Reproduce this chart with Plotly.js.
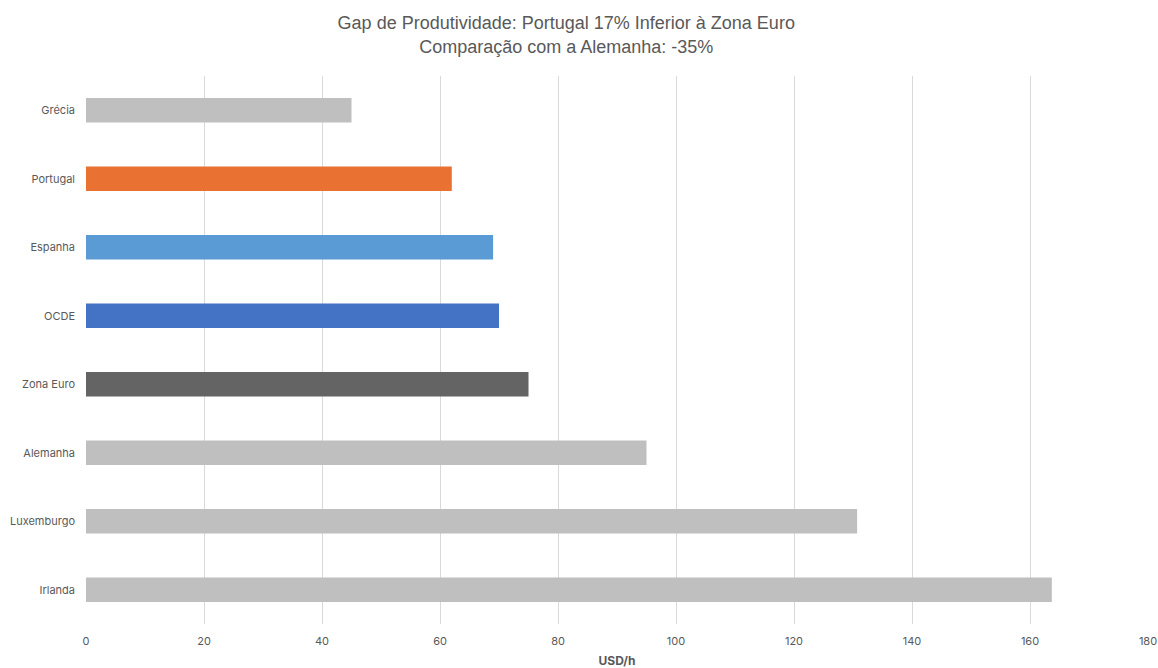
<!DOCTYPE html>
<html>
<head>
<meta charset="utf-8">
<script src="https://cdn.plot.ly/plotly-3.0.1.min.js"></script>
<style>html,body{margin:0;padding:0;background:#fff;}#chart{width:1158px;height:668px;}</style>
</head>
<body>
<div id="chart"></div>
<script>
const countries = ["Grécia", "Portugal", "Espanha", "OCDE", "Zona Euro", "Alemanha", "Luxemburgo", "Irlanda"];
const productivity = [45, 62, 69, 70, 75, 95, 130.7, 163.7];
const barColors = ["#BFBFBF", "#E97132", "#5B9BD5", "#4472C4", "#646464", "#BFBFBF", "#BFBFBF", "#BFBFBF"];
const xTicks = [0, 20, 40, 60, 80, 100, 120, 140, 160, 180];

const trace = {
  type: "bar",
  orientation: "h",
  x: productivity,
  y: countries,
  width: 0.36,
  marker: { color: barColors, line: { width: 0 } },
  hoverinfo: "x+y"
};

const layout = {
  width: 1158,
  height: 668,
  margin: { l: 86, r: 10, t: 76, b: 44 },
  paper_bgcolor: "#ffffff",
  plot_bgcolor: "#ffffff",
  showlegend: false,
  font: { family: "Inter, 'Noto Sans', sans-serif", color: "#595959", size: 11 },
  title: {
    text: "Gap de Produtividade: Portugal 17% Inferior à Zona Euro<br>Comparação com a Alemanha: -35%",
    font: { family: "'Liberation Sans', Arial, sans-serif", size: 18, color: "#595959" },
    x: 0.489, xref: "container", xanchor: "center",
    y: 0.956, yref: "container", yanchor: "middle"
  },
  xaxis: {
    range: [0, 180],
    tickvals: xTicks,
    ticktext: xTicks.map(String),
    showgrid: true,
    gridcolor: "#D9D9D9",
    gridwidth: 1,
    zeroline: false,
    showline: false,
    ticks: "",
    ticklabelstandoff: 9,
    tickfont: { size: 11, color: "#595959" },
    title: { text: "<b>USD/h</b>", font: { size: 12, color: "#595959" }, standoff: 10 },
    fixedrange: true
  },
  yaxis: {
    type: "category",
    categoryorder: "array",
    categoryarray: countries,
    autorange: "reversed",
    showgrid: false,
    zeroline: false,
    showline: false,
    ticks: "",
    ticklabelstandoff: 10,
    tickfont: { size: 11, color: "#595959" },
    fixedrange: true
  },
  bargap: 0.64
};

Plotly.newPlot("chart", [trace], layout, { displayModeBar: false, staticPlot: true });
</script>
</body>
</html>
